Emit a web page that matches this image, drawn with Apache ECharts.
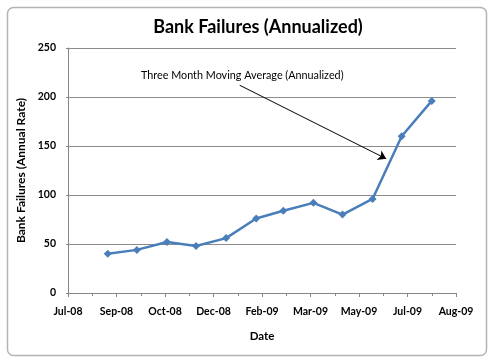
<!DOCTYPE html>
<html>
<head>
<meta charset="utf-8">
<script src="https://cdn.jsdelivr.net/npm/echarts@6/dist/echarts.min.js"></script>
<style>
html,body{margin:0;padding:0;background:#fff;}
#c{width:490px;height:360px;}
</style>
</head>
<body>
<div id="c"></div>
<script>
// Data (month-end dates, three month moving average of bank failures, annualized)
const dates = ['2008-08-31','2008-09-30','2008-10-31','2008-11-30','2008-12-31','2009-01-31',
               '2009-02-28','2009-03-31','2009-04-30','2009-05-31','2009-06-30','2009-07-31'];
const failures = [40, 44, 52, 48, 56, 76, 84, 92, 80, 96, 160, 196];
// x axis range in Excel serial days (Jul-08 ... Aug-09), step 50 days
const xMin = 39650, xMax = 40050, xStep = 50;
const yTicks = [0, 50, 100, 150, 200, 250];
const months = ['Jan','Feb','Mar','Apr','May','Jun','Jul','Aug','Sep','Oct','Nov','Dec'];
const annotationText = 'Three Month Moving Average (Annualized)';

const EPOCH = Date.UTC(1899, 11, 30);
const toSerial = d => Math.round((Date.parse(d + 'T00:00:00Z') - EPOCH) / 86400000);
const fmtSerial = v => {
  const d = new Date(EPOCH + v * 86400000);
  return months[d.getUTCMonth()] + '-' + String(d.getUTCFullYear() % 100).padStart(2, '0');
};
const seriesData = dates.map((d, i) => [toSerial(d), failures[i]]);

const FONT = 'Lato';
const chart = echarts.init(document.getElementById('c'), null, {renderer: 'canvas'});
chart.setOption({
  animation: false,
  backgroundColor: '#fff',
  title: {
    text: 'Bank Failures (Annualized)',
    left: 253, top: 13, textAlign: 'center',
    textStyle: {fontFamily: FONT, fontWeight: 'bold', fontSize: 18, color: '#000'}
  },
  grid: {left: 68, right: 34, top: 48, bottom: 67},
  xAxis: {
    type: 'value', min: xMin, max: xMax, interval: xStep,
    name: 'Date', nameLocation: 'middle', nameGap: 37,
    nameTextStyle: {fontFamily: FONT, fontWeight: 'bold', fontSize: 11.5, color: '#000'},
    axisLine: {show: true, lineStyle: {color: '#868686', width: 1}},
    axisTick: {show: true, length: 4, lineStyle: {color: '#868686'}},
    minorTick: {show: true, splitNumber: 2, length: 3, lineStyle: {color: '#868686'}},
    splitLine: {show: false},
    axisLabel: {formatter: fmtSerial, margin: 13, fontFamily: FONT, fontWeight: 'bold', fontSize: 10.5, color: '#000'}
  },
  yAxis: {
    type: 'value', min: yTicks[0], max: yTicks[yTicks.length - 1], interval: yTicks[1] - yTicks[0],
    name: 'Bank Failures (Annual Rate)', nameLocation: 'middle', nameGap: 40,
    nameTextStyle: {fontFamily: FONT, fontWeight: 'bold', fontSize: 12, color: '#000'},
    axisLine: {show: true, lineStyle: {color: '#868686', width: 1}},
    axisTick: {show: true, length: 2, lineStyle: {color: '#868686'}},
    splitLine: {show: true, lineStyle: {color: '#8c8c8c', width: 1}},
    axisLabel: {margin: 12, fontFamily: FONT, fontWeight: 'bold', fontSize: 10.5, color: '#000'}
  },
  graphic: [
    {type: 'rect', left: 5, top: 5, shape: {width: 479, height: 348, r: 6},
     style: {fill: 'none', stroke: '#b4b4b4', lineWidth: 1.5}, silent: true, z: -1},
    {type: 'text', left: 141, top: 70,
     style: {text: annotationText, fontFamily: FONT, fontSize: 10.8, fill: '#000'}}
  ],
  series: [{
    type: 'line',
    data: seriesData,
    symbol: 'diamond', symbolSize: 8,
    lineStyle: {color: '#4a7ebb', width: 2.5},
    itemStyle: {color: '#4a7ebb'},
    markLine: {
      silent: true, symbol: ['none', 'arrow'], symbolSize: 8,
      label: {show: false},
      lineStyle: {color: '#000', width: 1, type: 'solid'},
      data: [[{coord: [39827, 212]}, {coord: [39978, 137]}]]
    }
  }]
});
</script>
</body>
</html>
